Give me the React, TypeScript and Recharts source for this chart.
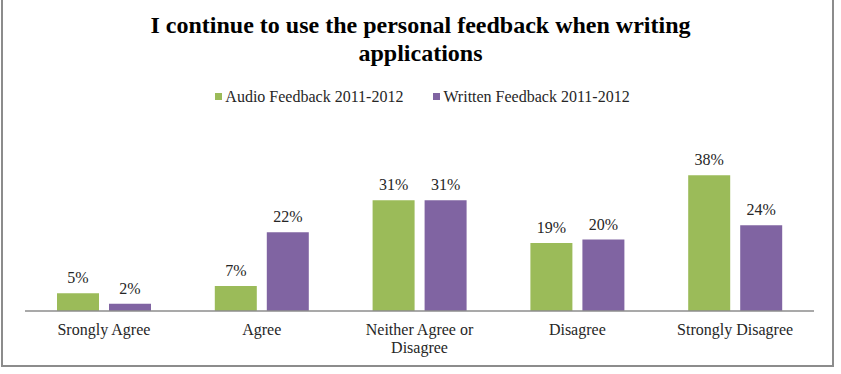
import * as React from "react";
import { BarChart, Bar, XAxis, YAxis, LabelList } from "recharts";

const CATEGORIES = [
  "Srongly Agree",
  "Agree",
  "Neither Agree or Disagree",
  "Disagree",
  "Strongly Disagree",
];
const AUDIO_2011 = [5, 7, 31, 19, 38];
const WRITTEN_2011 = [2, 22, 31, 20, 24];

const AUDIO_COLOR = "#9bbb59";
const WRITTEN_COLOR = "#8064a2";
const FONT = '"Liberation Serif", "Times New Roman", serif';

const data = CATEGORIES.map((name, i) => ({
  name,
  audio: AUDIO_2011[i],
  written: WRITTEN_2011[i],
}));

// Category labels wrap at "or" the way the long one does
function CategoryTick(props: any) {
  const { x, y, payload } = props;
  const label: string = payload.value;
  const lines =
    label === "Neither Agree or Disagree"
      ? ["Neither Agree or", "Disagree"]
      : [label];
  return (
    <g transform={`translate(${x},${y})`}>
      <text textAnchor="middle" fontSize={16} fill="#262626">
        {lines.map((l, i) => (
          <tspan key={i} x={0} dy={i === 0 ? 16 : 18}>
            {l}
          </tspan>
        ))}
      </text>
    </g>
  );
}

function LegendItem({
  color,
  label,
  gap,
}: {
  color: string;
  label: string;
  gap: number;
}) {
  return (
    <span
      style={{ display: "inline-flex", alignItems: "center", marginRight: gap }}
    >
      <span
        style={{
          display: "inline-block",
          width: 7,
          height: 7,
          background: color,
          marginRight: 3,
        }}
      />
      {label}
    </span>
  );
}

export default function App() {
  return (
    <div
      style={{
        position: "absolute",
        left: 0,
        top: 0,
        width: 841,
        height: 374,
        background: "#fff",
        fontFamily: FONT,
      }}
    >
      <style>{`.fb-chart text { font-family: ${FONT} !important; }`}</style>
      <div
        style={{
          position: "absolute",
          left: 1,
          top: -2,
          width: 833,
          height: 369,
          border: "2px solid #8c8c8c",
          boxSizing: "border-box",
        }}
      />
      <div
        style={{
          position: "absolute",
          left: 0,
          top: 11,
          width: 841,
          textAlign: "center",
          fontWeight: "bold",
          fontSize: 24,
          lineHeight: "28px",
          color: "#000",
        }}
      >
        I continue to use the personal feedback when writing
        <br />
        applications
      </div>
      <div
        style={{
          position: "absolute",
          left: 0,
          top: 86,
          width: 841,
          paddingLeft: 4,
          boxSizing: "border-box",
          textAlign: "center",
          fontSize: 16,
          color: "#262626",
        }}
      >
        <LegendItem color={AUDIO_COLOR} label="Audio Feedback 2011-2012" gap={30} />
        <LegendItem color={WRITTEN_COLOR} label="Written Feedback 2011-2012" gap={0} />
      </div>
      <div className="fb-chart" style={{ position: "absolute", left: 0, top: 0 }}>
        <BarChart
          width={841}
          height={374}
          data={data}
          margin={{ top: 168, right: 27, bottom: 23, left: 25 }}
          barSize={42}
          barGap={10}
        >
          <XAxis
            dataKey="name"
            height={40}
            tickLine={false}
            axisLine={{ stroke: "#8c8c8c", strokeWidth: 1.5 }}
            tick={<CategoryTick />}
            interval={0}
          />
          <YAxis hide domain={[0, 40]} />
          <Bar dataKey="audio" fill={AUDIO_COLOR} isAnimationActive={false}>
            <LabelList
              dataKey="audio"
              position="top"
              offset={10}
              formatter={(v: any) => `${v}%`}
              fontSize={16}
              fill="#262626"
            />
          </Bar>
          <Bar dataKey="written" fill={WRITTEN_COLOR} isAnimationActive={false}>
            <LabelList
              dataKey="written"
              position="top"
              offset={10}
              formatter={(v: any) => `${v}%`}
              fontSize={16}
              fill="#262626"
            />
          </Bar>
        </BarChart>
      </div>
    </div>
  );
}
